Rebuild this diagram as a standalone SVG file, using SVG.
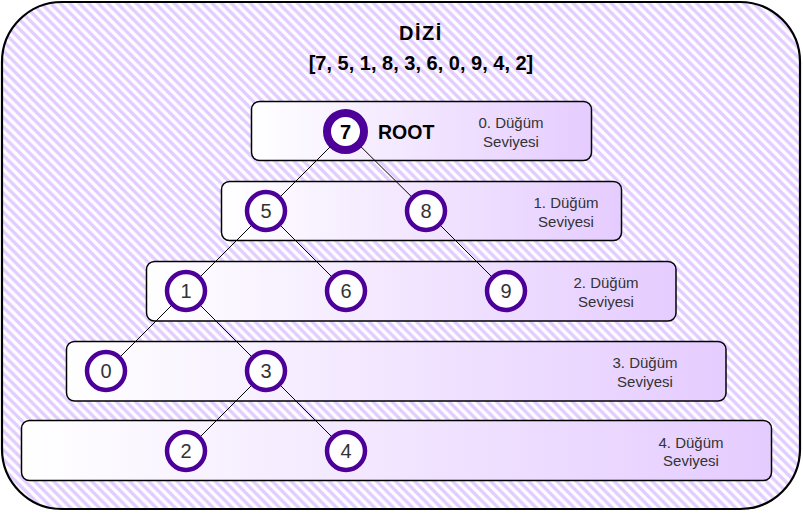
<svg xmlns="http://www.w3.org/2000/svg" width="803" height="513" viewBox="0 0 803 513">
<defs>
  <pattern id="hatch" patternUnits="userSpaceOnUse" width="9.5" height="9.5">
    <rect x="0" y="0" width="9.5" height="9.5" fill="#ffffff"/>
    <path d="M0,0 L9.5,9.5 M7.5,-2 L11.5,2 M-2,7.5 L2,11.5" stroke="#E3CCFF" stroke-width="3.4" fill="none"/>
  </pattern>
  <linearGradient id="lvl" x1="0" y1="0" x2="1" y2="0">
    <stop offset="0" stop-color="#ffffff"/>
    <stop offset="1" stop-color="#E5CCFF"/>
  </linearGradient>
</defs>
<style>
  .lvl { fill: url(#lvl); stroke: #000; stroke-width: 1.5; }
  .node { fill: #fff; stroke: #4C0099; stroke-width: 4.5; }
  .root { fill: #fff; stroke: #4C0099; stroke-width: 8; }
  .num { font-family: "Liberation Sans", Arial, sans-serif; font-size: 20px; fill: #333; text-anchor: middle; }
  .bold { font-family: "Liberation Sans", Arial, sans-serif; font-weight: bold; fill: #000; }
  .lab { font-family: "Liberation Sans", Arial, sans-serif; font-size: 15px; fill: #333; text-anchor: middle; }
  .edge { stroke: #000; stroke-width: 1; fill: none; }
</style>

<g id="container">
  <rect x="2" y="2" width="798" height="507" rx="60" ry="60" fill="url(#hatch)" stroke="#000" stroke-width="2.2"/>
  <text class="bold" x="421" y="39.5" font-size="20" text-anchor="middle" letter-spacing="1.5">DİZİ</text>
  <text class="bold" x="421" y="70" font-size="20" text-anchor="middle">[7, 5, 1, 8, 3, 6, 0, 9, 4, 2]</text>
</g>

<g id="level0">
  <rect class="lvl" x="251.5" y="101.5" width="340" height="59" rx="8"/>
  <text class="lab" x="511" y="128">0. Düğüm</text>
  <text class="lab" x="511" y="146.5">Seviyesi</text>
</g>
<g id="level1">
  <rect class="lvl" x="221.5" y="181.5" width="400" height="59" rx="8"/>
  <text class="lab" x="566" y="208">1. Düğüm</text>
  <text class="lab" x="566" y="226.5">Seviyesi</text>
</g>
<g id="level2">
  <rect class="lvl" x="146.5" y="261.5" width="529.5" height="59.5" rx="8"/>
  <text class="lab" x="606" y="288">2. Düğüm</text>
  <text class="lab" x="606" y="306.5">Seviyesi</text>
</g>
<g id="level3">
  <rect class="lvl" x="66.5" y="341.5" width="659.5" height="59.5" rx="8"/>
  <text class="lab" x="645" y="368">3. Düğüm</text>
  <text class="lab" x="645" y="386.5">Seviyesi</text>
</g>
<g id="level4">
  <rect class="lvl" x="21.5" y="420.5" width="750" height="60" rx="8"/>
  <text class="lab" x="691" y="447.5">4. Düğüm</text>
  <text class="lab" x="691" y="466">Seviyesi</text>
</g>

<g id="connectors">
  <line class="edge" x1="345.5" y1="131.5" x2="266" y2="211"/>
  <line class="edge" x1="345.5" y1="131.5" x2="426" y2="211"/>
  <line class="edge" x1="266" y1="211" x2="186" y2="291"/>
  <line class="edge" x1="266" y1="211" x2="346" y2="291"/>
  <line class="edge" x1="426" y1="211" x2="506" y2="291"/>
  <line class="edge" x1="186" y1="291" x2="106" y2="371"/>
  <line class="edge" x1="186" y1="291" x2="266" y2="371"/>
  <line class="edge" x1="266" y1="371" x2="186" y2="451"/>
  <line class="edge" x1="266" y1="371" x2="346" y2="451"/>
</g>

<g id="node7">
  <circle class="root" cx="345.5" cy="131.5" r="18.5"/>
  <text class="bold" x="345.5" y="139" font-size="20" text-anchor="middle">7</text>
  <text class="bold" x="378" y="139" font-size="19.5">ROOT</text>
</g>
<g id="node5">
  <circle class="node" cx="266" cy="211" r="19"/>
  <text class="num" x="266" y="218">5</text>
</g>
<g id="node8">
  <circle class="node" cx="426" cy="211" r="19"/>
  <text class="num" x="426" y="218">8</text>
</g>
<g id="node1">
  <circle class="node" cx="186" cy="291" r="19"/>
  <text class="num" x="186" y="298">1</text>
</g>
<g id="node6">
  <circle class="node" cx="346" cy="291" r="19"/>
  <text class="num" x="346" y="298">6</text>
</g>
<g id="node9">
  <circle class="node" cx="506" cy="291" r="19"/>
  <text class="num" x="506" y="298">9</text>
</g>
<g id="node0">
  <circle class="node" cx="106" cy="371" r="19"/>
  <text class="num" x="106" y="378">0</text>
</g>
<g id="node3">
  <circle class="node" cx="266" cy="371" r="19"/>
  <text class="num" x="266" y="378">3</text>
</g>
<g id="node2">
  <circle class="node" cx="186" cy="451" r="19"/>
  <text class="num" x="186" y="458">2</text>
</g>
<g id="node4">
  <circle class="node" cx="346" cy="451" r="19"/>
  <text class="num" x="346" y="458">4</text>
</g>
</svg>
